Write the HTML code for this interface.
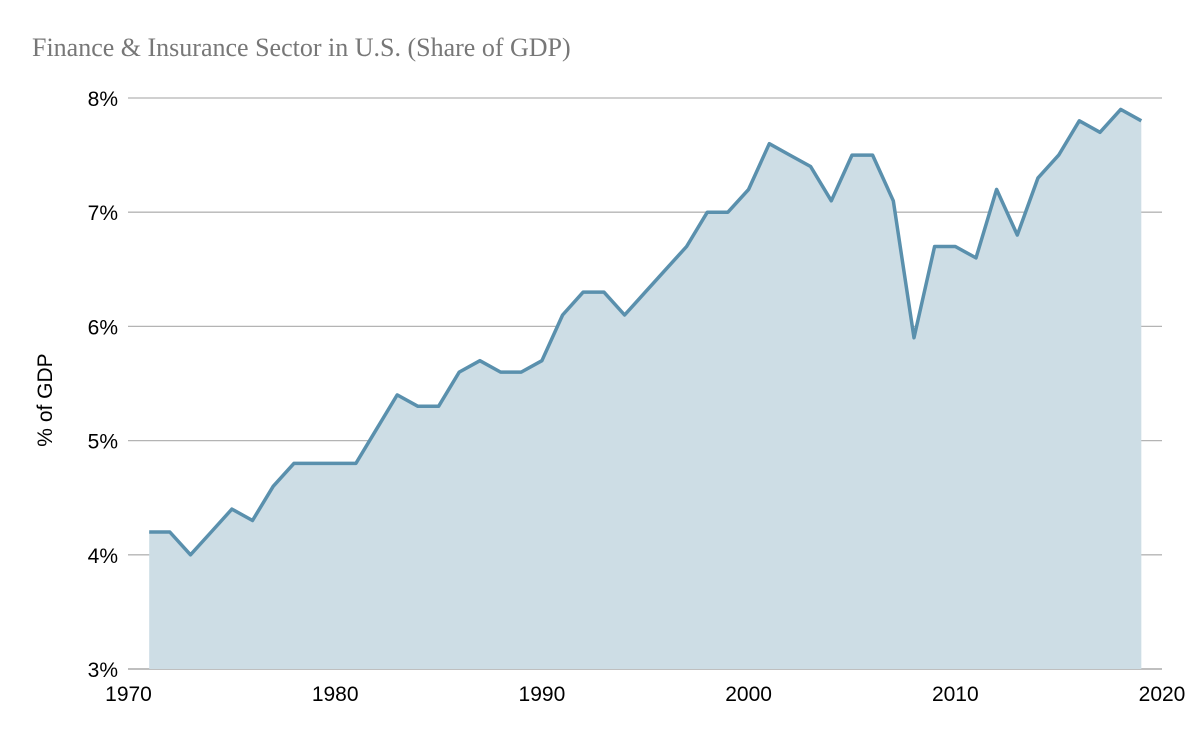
<!DOCTYPE html>
<html><head><meta charset="utf-8"><style>
body{margin:0;background:#fff;}
svg{display:block;}
</style></head><body>
<svg id="c" width="1200" height="742" xmlns="http://www.w3.org/2000/svg">
<text x="32" y="56" font-family="Liberation Serif, serif" font-size="26" fill="#777">Finance &amp; Insurance Sector in U.S. (Share of GDP)</text>
<g id="grid"></g>
<path id="area" fill="#cddde5" stroke="none"/>
<path id="line" fill="none" stroke="#5a90ad" stroke-width="3.5" stroke-linejoin="round"/>
<g id="labels" font-family="Liberation Sans, sans-serif" font-size="21" fill="#000"></g>
<text transform="translate(52,400) rotate(-90)" text-anchor="middle" font-family="Liberation Sans, sans-serif" font-size="21" fill="#000">% of GDP</text>
</svg>
<script>
var d=[4.2,4.2,4.0,4.2,4.4,4.3,4.6,4.8,4.8,4.8,4.8,5.1,5.4,5.3,5.3,5.6,5.7,5.6,5.6,5.7,6.1,6.3,6.3,6.1,6.3,6.5,6.7,7.0,7.0,7.2,7.6,7.5,7.4,7.1,7.5,7.5,7.1,5.9,6.7,6.7,6.6,7.2,6.8,7.3,7.5,7.8,7.7,7.9,7.8];
function X(y){return 128.5+(y-1970)*20.67;}
function Y(v){return 669-(v-3)*114.2;}
var ns="http://www.w3.org/2000/svg",g=document.getElementById('grid'),L=document.getElementById('labels');
for(var v=3;v<=8;v++){var l=document.createElementNS(ns,'line');l.setAttribute('x1',128);l.setAttribute('x2',1162);l.setAttribute('y1',Y(v));l.setAttribute('y2',Y(v));l.setAttribute('stroke',v==3?'#999':'#b4b4b4');l.setAttribute('stroke-width',1.3);g.appendChild(l);
var t=document.createElementNS(ns,'text');t.setAttribute('x',118);t.setAttribute('y',Y(v)+8);t.setAttribute('text-anchor','end');t.textContent=v+'%';L.appendChild(t);}
for(var yr=1970;yr<=2020;yr+=10){var t=document.createElementNS(ns,'text');t.setAttribute('x',X(yr));t.setAttribute('y',701);t.setAttribute('text-anchor','middle');t.textContent=yr;L.appendChild(t);}
var p='';d.forEach(function(v,i){p+=(i?'L':'M')+X(1971+i).toFixed(1)+','+Y(v).toFixed(1);});
document.getElementById('line').setAttribute('d',p);
document.getElementById('area').setAttribute('d',p+'L'+X(2019)+','+Y(3)+'L'+X(1971)+','+Y(3)+'Z');
</script>
</body></html>
